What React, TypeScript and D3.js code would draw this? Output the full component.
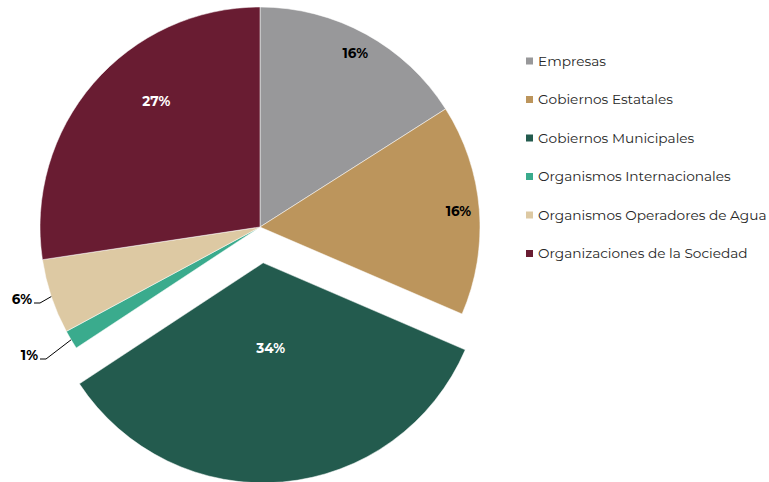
import React from 'react';
import * as d3 from 'd3';

const categories = [
  'Empresas',
  'Gobiernos Estatales',
  'Gobiernos Municipales',
  'Organismos Internacionales',
  'Organismos Operadores de Agua',
  'Organizaciones de la Sociedad',
];
const values = [16.0, 15.5, 34.3, 1.4, 5.5, 27.4];
const labels = ['16%', '16%', '34%', '1%', '6%', '27%'];
const colors = ['#98989a', '#bc955c', '#235b4e', '#3aab8d', '#ddc9a3', '#691c32'];
const exploded = 'Gobiernos Municipales';

const width = 769;
const height = 482;
const cx = 260;
const cy = 227;
const radius = 220;
const explodeBy = 36;

// where each label sits: inside at a radius (and optional angle), or outside with a leader
const labelPlace: Record<string, {r?: number, angle?: number, outside?: boolean, elbow?: [number, number]}> = {
  'Empresas': {r: 198},
  'Gobiernos Estatales': {r: 199},
  'Gobiernos Municipales': {r: 86},
  'Organismos Internacionales': {outside: true, elbow: [-214, 132]},
  'Organismos Operadores de Agua': {outside: true, elbow: [-220, 76]},
  'Organizaciones de la Sociedad': {r: 163, angle: 320.5 * Math.PI / 180},
};

const App: React.FC = () => {
  const pie = d3.pie<number>().sort(null).value((d) => d);
  const arcs = pie(values);
  const arc = d3.arc<d3.PieArcDatum<number>>().innerRadius(0).outerRadius(radius);
  const fontFamily = 'Montserrat, "Open Sans", sans-serif';

  return (
    <svg width={width} height={height} style={{display: 'block', position: 'absolute', left: 0, top: 0}}>
      <g transform={`translate(${cx},${cy})`}>
        {arcs.map((a, i) => {
          const mid = (a.startAngle + a.endAngle) / 2;
          const off = categories[i] === exploded ? explodeBy : 0;
          const ox = Math.sin(mid) * off;
          const oy = -Math.cos(mid) * off;
          return (
            <path key={categories[i]} d={arc(a) || ''} fill={colors[i]}
                  stroke="#ffffff" strokeWidth={0.5}
                  transform={`translate(${ox},${oy})`}/>
          );
        })}
        {arcs.map((a, i) => {
          const mid = (a.startAngle + a.endAngle) / 2;
          const off = categories[i] === exploded ? explodeBy : 0;
          const ox = Math.sin(mid) * off;
          const oy = -Math.cos(mid) * off;
          const place = labelPlace[categories[i]];
          if (place.outside && place.elbow) {
            const ex = Math.sin(mid) * radius;
            const ey = -Math.cos(mid) * radius;
            const [bx, by] = place.elbow;
            const tx = bx - 6;
            return (
              <g key={`l-${categories[i]}`}>
                <polyline points={`${ex},${ey} ${bx},${by} ${tx},${by}`} fill="none"
                          stroke="#000" strokeWidth={1}/>
                <text x={tx - 2} y={by} dy="0.05em" textAnchor="end" fontFamily={fontFamily}
                      fontWeight={700} fontSize={13.5} fill="#000">{labels[i]}</text>
              </g>
            );
          }
          const ang = place.angle ?? mid;
          const r = place.r ?? radius * 0.6;
          const lx = ox + Math.sin(ang) * r;
          const ly = oy - Math.cos(ang) * r;
          const white = i === 2 || i === 5;
          return (
            <text key={`l-${categories[i]}`} x={lx} y={ly} dy="0.35em" textAnchor="middle"
                  fontFamily={fontFamily} fontWeight={700} fontSize={13.5}
                  fill={white ? '#ffffff' : '#000000'}>{labels[i]}</text>
          );
        })}
      </g>
      <g transform="translate(526,61)">
        {categories.map((c, i) => (
          <g key={c} transform={`translate(0,${i * 38.5})`}>
            <rect x={0} y={-3.5} width={7} height={7} fill={colors[i]}/>
            <text x={12} y={0} dy="0.35em" fontFamily={fontFamily} fontSize={13.7}
                  fill="#262626">{c}</text>
          </g>
        ))}
      </g>
    </svg>
  );
};

export default App;
